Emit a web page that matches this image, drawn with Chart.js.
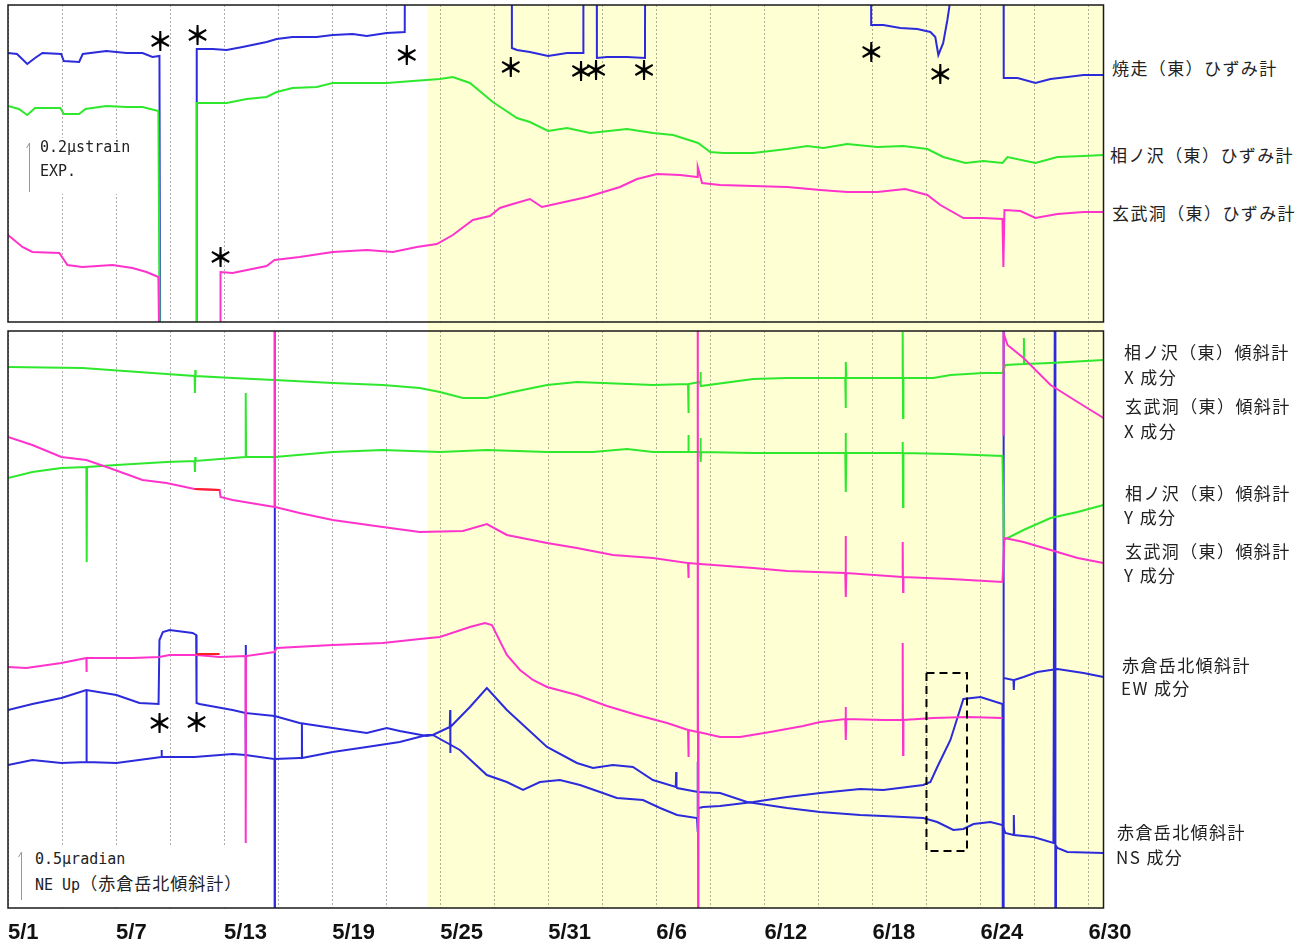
<!DOCTYPE html>
<html lang="ja">
<head>
<meta charset="utf-8">
<title>ひずみ計・傾斜計 5/1〜6/30</title>
<script src="https://cdn.jsdelivr.net/npm/chart.js@4.4.1/dist/chart.umd.min.js"></script>
<style>
  body { margin: 0; background: #fff; width: 1312px; height: 947px; position: relative; overflow: hidden;
         font-family: "Noto Sans CJK JP", sans-serif; color: #222; }
  #topBox    { position: absolute; left: 0; top: 0;     width: 1110px; height: 330px; }
  #bottomBox { position: absolute; left: 0; top: 330px; width: 1140px; height: 617px; }
  .lbl { position: absolute; font-size: 17px; letter-spacing: 1.4px; line-height: 20px; white-space: nowrap; }
  .scale { position: absolute; background: #fff; }
  .scale svg { position: absolute; left: 0; top: 0; }
  .scale .t { position: absolute; font-family: "DejaVu Sans Mono", monospace; font-size: 15px; line-height: 20px; white-space: nowrap; color: #222; }
  .scale .t span { font-family: "Noto Sans CJK JP", sans-serif; font-size: 17px; letter-spacing: 1px; }
</style>
</head>
<body>
<div id="topBox"><canvas id="strainChart"></canvas></div>
<div id="bottomBox"><canvas id="tiltChart"></canvas></div>

<!-- scale bars -->
<div class="scale" style="left:20px;top:138px;width:130px;height:56px;">
  <svg width="20" height="56"><path d="M9.5 5 V54 M9.5 5 L6.5 10" stroke="#999" stroke-width="1" fill="none"/></svg>
  <div class="t" style="left:20px;top:-1px;">0.2μstrain</div>
  <div class="t" style="left:20px;top:23px;">EXP.</div>
</div>
<div class="scale" style="left:12px;top:845px;width:240px;height:61px;">
  <svg width="20" height="61"><path d="M9.5 7 V55 M9.5 7 L6.5 12" stroke="#999" stroke-width="1" fill="none"/></svg>
  <div class="t" style="left:23px;top:4px;">0.5μradian</div>
  <div class="t" style="left:23px;top:28px;">NE Up<span>（赤倉岳北傾斜計）</span></div>
</div>

<!-- series labels -->
<div class="lbl" style="left:1112px;top:58px;">焼走（東）ひずみ計</div>
<div class="lbl" style="left:1110px;top:145px;">相ノ沢（東）ひずみ計</div>
<div class="lbl" style="left:1112px;top:203px;">玄武洞（東）ひずみ計</div>
<div class="lbl" style="left:1124px;top:342px;">相ノ沢（東）傾斜計</div>
<div class="lbl" style="left:1124px;top:367px;">X 成分</div>
<div class="lbl" style="left:1125px;top:396px;">玄武洞（東）傾斜計</div>
<div class="lbl" style="left:1124px;top:421px;">X 成分</div>
<div class="lbl" style="left:1125px;top:483px;">相ノ沢（東）傾斜計</div>
<div class="lbl" style="left:1124px;top:507px;">Y 成分</div>
<div class="lbl" style="left:1125px;top:541px;">玄武洞（東）傾斜計</div>
<div class="lbl" style="left:1124px;top:565px;">Y 成分</div>
<div class="lbl" style="left:1122px;top:655px;">赤倉岳北傾斜計</div>
<div class="lbl" style="left:1121px;top:678px;">EW 成分</div>
<div class="lbl" style="left:1117px;top:822px;">赤倉岳北傾斜計</div>
<div class="lbl" style="left:1116px;top:847px;">NS 成分</div>

<script>
// x = days since 5/1 00:00, y = relative level (arbitrary offset units)
const DAY_MAX = 60.83;
const gridDays   = [0, 3, 6, 9, 12, 15, 18, 21, 24, 27, 30, 33, 36, 39, 42, 45, 48, 51, 54, 57, 60];
const labelDays  = [0, 6, 12, 18, 24, 30, 36, 42, 48, 54, 60];
const labelTexts = ['5/1', '5/7', '5/13', '5/19', '5/25', '5/31', '6/6', '6/12', '6/18', '6/24', '6/30'];
const shadeStart = 23.3;

// ---- strain meters (top panel) ----
const strainYakehashiri = [
  [0,269],[0.5,268],[1.07,258],[1.5,264],[1.91,269],[2.95,268],[3.1,261],[3.95,260],[4.15,268],[5.46,271],[6.58,269],
  [7.47,269],[8.02,265],[8.41,266],[8.45,-100],[9,null],
  [10.47,-100],[10.48,273],[11.36,273],[12.14,272],[13.02,275],[14.36,280],[14.92,283],[15.8,285],[17.14,285],
  [18.03,287],[19.14,288],[19.92,286],[21.03,289],[22.03,290],[22.05,500],[25,null],
  [27.97,500],[27.98,274],[28.26,272],[28.98,270],[29.99,266],[31.04,269],[31.93,269],[31.95,500],[32.3,null],
  [32.68,500],[32.7,264],[33.26,265],[34.37,265],[35.37,264],[35.39,500],[40,null],
  [47.9,500],[47.93,297],[48.6,297],[49.55,294],[50.49,293],[51.22,290],[51.49,285],[51.66,267],[51.93,279],
  [52.16,302],[52.27,315],[52.32,500],[54,null],
  [55.27,500],[55.29,244],[56.06,244],[57.05,239],[57.89,243],[58.83,245],[59.72,247],[60.83,247]
];
const strainAinosawa = [
  [0,216],[0.6,213],[1.07,207],[1.5,214],[2.9,214],[3.1,208],[3.95,208],[4.3,213],[5.46,216],[6.58,215],[7.47,215],
  [8.35,211],[8.45,-100],[9,null],
  [10.47,-100],[10.48,219],[12.14,219],[13.25,223],[14.36,225],[14.92,230],[15.8,234],[17.14,235],[18.03,239],
  [19.92,239],[21.03,239],[22.47,241],[23.98,243],[24.7,245],[25.65,239],[26.92,220],[28.26,204],[28.98,200],
  [29.99,191],[31.04,194],[32.32,189],[34.37,193],[35.81,189],[36.93,187],[38.32,179],[38.99,170],[39.71,169],
  [41.38,169],[43.26,173],[44.38,176],[45.27,174],[46.6,178],[48.27,175],[49.71,176],[51.05,173],[51.93,165],
  [53.16,159],[54.16,161],[55.22,159],[55.5,165],[57.05,159],[58.27,165],[59.72,166],[60.83,167]
];
const strainGenbudo = [
  [0,87],[0.8,75],[1.35,70],[2.85,69],[3.3,57],[4.13,55],[5.8,57],[6.91,54],[7.69,50],[8.35,45],[8.45,-100],[9,null],
  [11.79,-100],[11.8,50],[12.47,49],[14.36,56],[14.8,62],[16.19,65],[18.03,70],[19.92,72],[21.37,70],[22.7,75],
  [23.81,78],[24.7,87],[25.81,102],[26.76,106],[27.31,114],[28.03,118],[28.98,123],[29.65,115],[30.65,119],
  [32.15,125],[33.98,135],[34.93,143],[36.04,148],[37.32,147],[38.26,145],[38.3,155],[38.54,139],[39.54,137],
  [41.38,136],[43.26,135],[45.1,132],[46.6,130],[48.27,130],[49.82,133],[51.05,127],[51.77,117],[53.05,104],
  [54.16,104],[55.22,103],[55.27,55],[55.33,112],[56.22,111],[57.05,104],[58.27,108],[59.72,110],[60.83,110]
];
const strainMarks = [[8.46,281],[10.52,287],[22.14,267],[11.8,65],[27.92,255],[31.82,251],[32.65,252],[35.32,252],[47.93,270],[51.77,248]];

// ---- tilt meters (bottom panel) ----
const tiltAinoX = [
  [0,541],[4.13,540],[8.8,534],[10.36,532],[10.38,515],[10.4,538],[10.42,532],[12.47,530],[14.8,528],[18.03,525],
  [20.81,523],[22.86,520],[23.98,516],[25.26,510],[26.59,510],[28.03,516],[29.93,523],[31.59,526],[33.04,525],
  [35.81,523],[37.76,524],[37.78,495],[37.8,524],[38.43,526],[38.45,536],[38.47,522],[41.38,529],[43.26,530],
  [46.49,530],[46.51,500],[46.53,546],[46.55,530],[49.66,530],[49.68,576],[49.7,490],[49.72,530],[51.38,530],
  [52.33,533],[54.16,535],[55.22,535],[55.38,543],[56.39,544],[56.41,570],[56.43,544],[57.89,545],[60.83,548]
];
const tiltGenbuX = [
  [0,241],[1.02,240],[2.96,245],[4.35,250],[4.36,236],[4.37,250],[6.91,250],[8.41,251],[8.97,253],[10.47,253],
  [11.75,251],[13.19,252],[13.2,65],[13.22,252],[14.8,256],[14.92,260],[18.03,263],[20.81,265],[22.86,269],
  [23.98,271],[25.65,281],[26.48,285],[26.87,283],[27.7,253],[28.43,238],[29.15,228],[29.93,221],[31.59,213],
  [33.26,202],[34.93,193],[36.6,185],[37.76,178],[37.78,151],[37.8,178],[38.28,176],[38.3,700],[38.32,-100],
  [38.34,176],[39.54,171],[40.65,171],[42.32,176],[44.15,182],[45.1,186],[46.49,189],[46.51,201],[46.53,168],
  [46.55,189],[48.6,188],[49.66,188],[49.68,265],[49.7,153],[49.72,188],[51.38,190],[53.27,191],[55.22,190],
  [55.25,null],[55.27,473],[55.28,575],[55.5,563],[56.39,550],[57.89,523],[59.39,506],[60.83,490]
];
const tiltAinoY = [
  [0,430],[1.35,436],[2.96,440],[4.35,441],[4.37,346],[4.39,441],[6.02,443],[8.8,446],[10.36,447],[10.38,436],
  [10.4,451],[10.42,447],[12.47,450],[13.19,451],[13.2,515],[13.22,451],[14.8,451],[18.03,456],[20.81,458],
  [23.98,456],[26.59,458],[29.93,456],[32.48,456],[34.37,459],[35.81,456],[37.76,456],[37.78,473],[37.8,456],
  [38.43,456],[38.45,470],[38.47,446],[38.49,456],[41.38,455],[45.1,455],[46.49,455],[46.51,475],[46.53,416],
  [46.55,455],[49.66,455],[49.68,466],[49.7,401],[49.72,455],[52.33,454],[55.22,452],[55.3,368],[56.39,378],
  [57.89,390],[59.39,396],[60.83,403]
];
const tiltGenbuY = [
  [0,471],[1.35,463],[2.96,451],[4.35,448],[5.63,440],[7.47,428],[8.8,425],[10.36,419],[11.75,418],[11.8,411],
  [12.47,408],[14.8,401],[14.81,700],[14.83,401],[16.19,395],[18.03,388],[20.81,381],[22.86,376],[25.26,377],
  [26.59,384],[27.7,373],[29.93,365],[31.59,360],[33.59,353],[35.81,350],[37.76,345],[37.78,330],[37.8,345],
  [38.43,344],[41.38,340],[43.26,337],[46.49,335],[46.51,372],[46.53,311],[46.55,335],[49.66,331],[49.68,366],
  [49.7,316],[49.72,331],[52.33,329],[55.22,326],[55.33,370],[56.39,366],[57.89,358],[59.39,350],[60.83,345]
];
const tiltAkakuraEW = [
  [0,198],[1.35,204],[2.96,210],[4.35,218],[6.02,213],[7.3,205],[8.36,204],[8.41,268],[8.6,276],[8.97,278],
  [10.25,275],[10.45,273],[10.47,205],[10.63,204],[12.47,198],[13.19,195],[13.2,263],[13.21,150],[13.22,195],
  [14.8,192],[16.19,185],[18.03,180],[19.92,175],[21.03,180],[21.75,177],[23.25,172],[23.59,173],[25.09,158],
  [26.59,133],[27.7,126],[28.6,118],[29.54,126],[30.65,128],[31.76,123],[32.87,116],[33.81,110],[35.26,108],
  [36.21,100],[37.15,93],[38.26,90],[38.29,146],[38.31,76],[38.34,100],[38.6,101],[39.54,102],[41.38,106],
  [43.26,111],[45.1,115],[47.32,119],[48.6,118],[50.82,123],[51.22,126],[51.6,141],[52.33,168],[53.05,209],
  [54,211],[55.22,204],[55.25,-200],[55.27,700],[55.3,230],[55.83,228],[55.85,218],[55.87,228],[56.39,231],
  [57.16,236],[58.27,239],[59.72,235],[60.83,231]
];
const tiltAkakuraNS = [
  [0,143],[1.35,148],[2.96,145],[4.35,146],[4.36,218],[4.37,146],[6.02,145],[8.52,151],[8.53,158],[8.54,151],
  [10.36,151],[12.47,154],[13.19,153],[14.8,149],[14.81,700],[14.82,-200],[14.83,149],[16.19,150],[16.31,150],
  [16.32,184],[16.33,150],[18.03,156],[19.92,161],[21.75,166],[23.25,173],[23.59,173],[24.53,181],[24.55,198],
  [24.56,155],[24.57,181],[25.65,201],[26.59,220],[27.7,198],[29.93,161],[31.59,145],[32.48,140],[33.59,143],
  [34.7,141],[35.81,128],[37.08,121],[37.1,136],[37.12,121],[37.15,120],[38.32,116],[39.54,115],[41.04,106],
  [43.26,100],[45.1,96],[47.32,93],[48.6,92],[50.82,90],[51.6,86],[52.49,78],[53.05,79],[53.61,84],[54.55,86],
  [55.22,83],[55.38,75],[55.83,73],[55.85,93],[55.87,73],[56.94,71],[58.05,65],[58.14,700],[58.16,-200],
  [58.2,62],[58.27,60],[58.83,56],[60.83,55]
];
// missing-data stretches filled in red
const gapGenbuY = [[10.36,419],[11.75,418]];
const gapGenbuX = [[10.47,254],[11.75,254]];
const tiltMarks = [[8.41,185],[10.47,186]];
const boxDays   = [51.0, 53.25];
const boxLevels = [57, 235];

const BLUE = '#2b2bdc', GREEN = '#2ee82e', PINK = '#ff33cc', RED = '#ff2020';

const panelDecor = {
  id: 'panelDecor',
  beforeDraw(chart, args, opts) {
    const { ctx, chartArea: a, scales: { x } } = chart;
    const x0 = x.getPixelForValue(shadeStart);
    const top = opts.shadeUp ? 0 : a.top;
    const bottom = opts.shadeDown ? chart.height : a.bottom;
    ctx.save();
    ctx.fillStyle = '#ffffd4';
    ctx.fillRect(x0, top, a.right - x0, bottom - top);
    ctx.restore();
  },
  afterDatasetsDraw(chart, args, opts) {
    const { ctx, chartArea: a, scales: { x, y } } = chart;
    ctx.save();
    if (opts.box) {
      const [d0, d1] = opts.box.days, [v0, v1] = opts.box.levels;
      const px0 = x.getPixelForValue(d0), px1 = x.getPixelForValue(d1);
      const py0 = y.getPixelForValue(v1), py1 = y.getPixelForValue(v0);
      ctx.strokeStyle = '#000';
      ctx.lineWidth = 2;
      ctx.setLineDash([8, 5]);
      ctx.strokeRect(px0, py0, px1 - px0, py1 - py0);
      ctx.setLineDash([]);
    }
    ctx.fillStyle = '#000';
    ctx.font = 'bold 26px "Noto Sans CJK JP"';
    ctx.textAlign = 'center';
    ctx.textBaseline = 'middle';
    (opts.marks || []).forEach(([d, v]) => ctx.fillText('＊', x.getPixelForValue(d), y.getPixelForValue(v)));
    ctx.strokeStyle = '#1a1a1a';
    ctx.lineWidth = 1.5;
    ctx.strokeRect(a.left, a.top, a.right - a.left, a.bottom - a.top);
    ctx.restore();
  }
};

function line(data, color, width) {
  return { data, borderColor: color, borderWidth: width || 2, pointRadius: 0, fill: false, tension: 0, spanGaps: false };
}

function xScale(showLabels) {
  return {
    type: 'linear', min: 0, max: DAY_MAX,
    afterBuildTicks: s => { s.ticks = gridDays.map(v => ({ value: v })); },
    afterFit: s => {
      s.height = showLabels ? 39 : 0;
      s.paddingLeft = 0;
      s.paddingRight = 0;
    },
    grid: { color: 'rgba(0,0,0,0.32)', lineWidth: 1, drawTicks: false },
    border: { display: false, dash: [2, 2] },
    ticks: {
      display: showLabels, autoSkip: false, maxRotation: 0, align: 'start', padding: 12,
      color: '#111', font: { family: '"Liberation Sans", Arial, sans-serif', size: 22, weight: 'bold' },
      callback: v => { const i = labelDays.indexOf(v); return i >= 0 ? labelTexts[i] : ''; }
    }
  };
}

const common = {
  responsive: true, maintainAspectRatio: false, animation: false, events: [],
  plugins: { legend: { display: false }, tooltip: { enabled: false } }
};

new Chart(document.getElementById('strainChart'), {
  type: 'line',
  data: { datasets: [
    line(strainGenbudo, PINK),
    line(strainAinosawa, GREEN),
    line(strainYakehashiri, BLUE)
  ] },
  options: {
    ...common,
    layout: { padding: { left: 8, right: 6.5, top: 5, bottom: 8 } },
    scales: { x: xScale(false), y: { display: false, min: 0, max: 317 } },
    plugins: { ...common.plugins, panelDecor: { shadeDown: true, marks: strainMarks } }
  },
  plugins: [panelDecor]
});

new Chart(document.getElementById('tiltChart'), {
  type: 'line',
  data: { datasets: [
    line(gapGenbuY, RED),
    line(gapGenbuX, RED),
    line(tiltGenbuX, PINK),
    line(tiltGenbuY, PINK),
    line(tiltAinoX, GREEN),
    line(tiltAinoY, GREEN),
    line(tiltAkakuraEW, BLUE),
    line(tiltAkakuraNS, BLUE)
  ] },
  options: {
    ...common,
    layout: { padding: { left: 8, right: 36.5, top: 1, bottom: 0 } },
    scales: { x: xScale(true), y: { display: false, min: 0, max: 577 } },
    plugins: { ...common.plugins, panelDecor: { shadeUp: true, marks: tiltMarks, box: { days: boxDays, levels: boxLevels } } }
  },
  plugins: [panelDecor]
});
</script>
</body>
</html>
